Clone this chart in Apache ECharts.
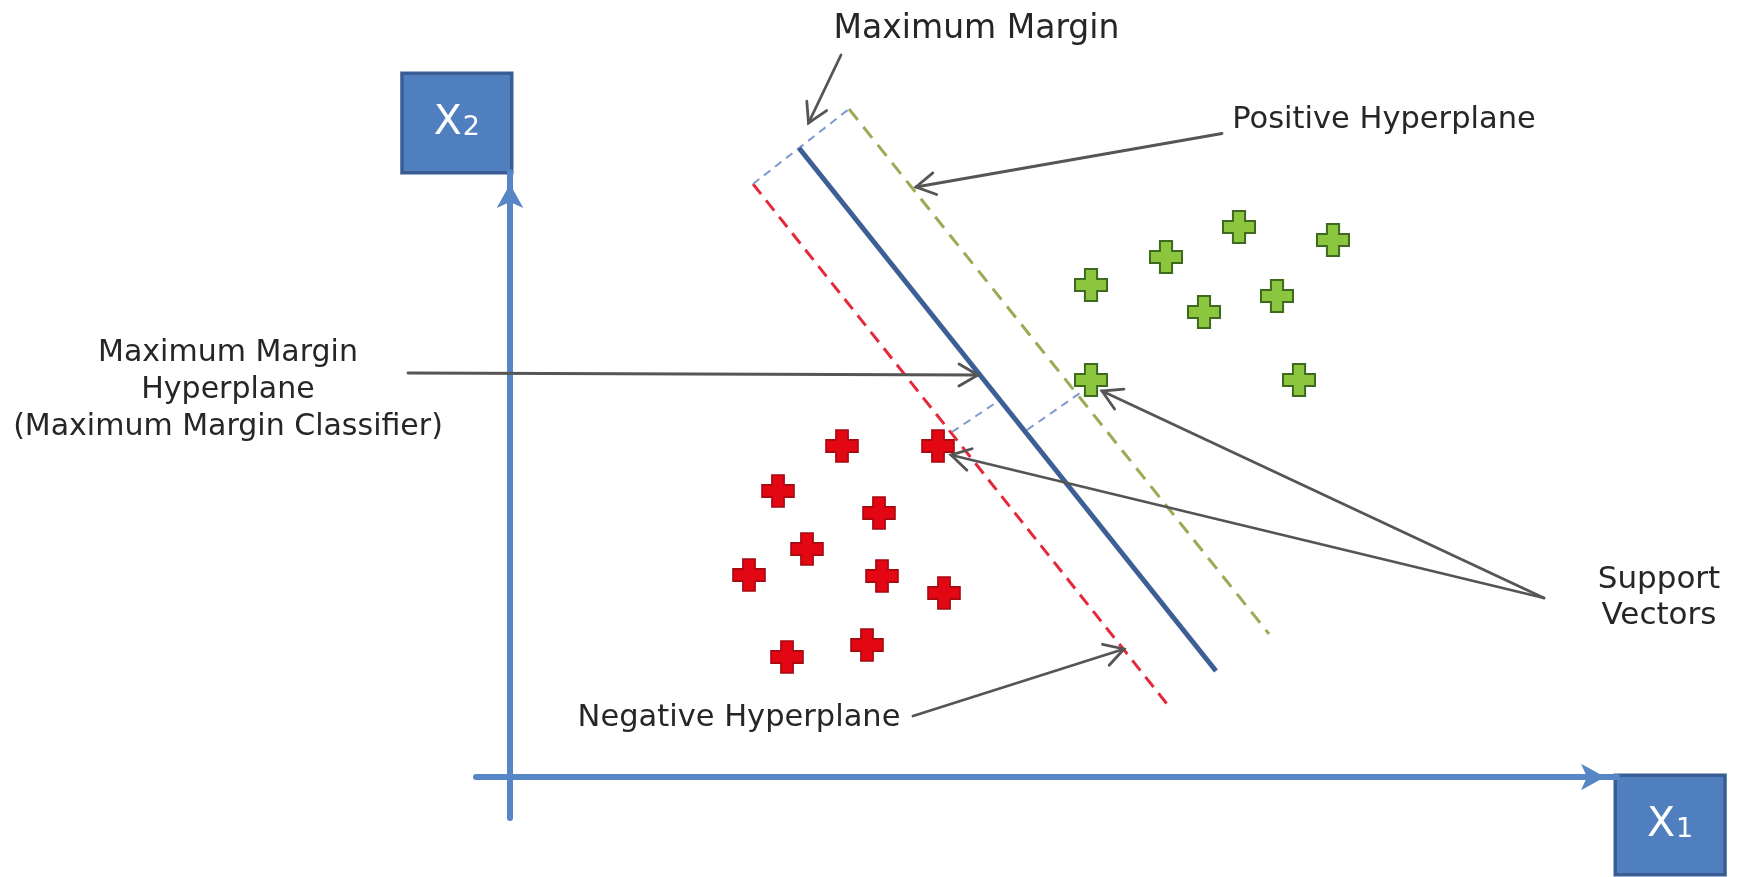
<!DOCTYPE html>
<html><head><meta charset="utf-8">
<script src="https://cdn.jsdelivr.net/npm/echarts@6/dist/echarts.min.js"></script>
<style>html,body{margin:0;padding:0;background:#fff}#c{width:1745px;height:877px}</style>
</head><body><div id="c"></div>
<script>
// ---- data (diagram units, origin at the axes crossing) ----
const redPoints = [[33.2,33.1],[42.8,33.1],[26.8,28.6],[36.9,26.4],[29.7,22.8],[23.9,20.2],[37.2,20.1],[43.4,18.4],[27.7,12.0],[35.7,13.2]];
const greenPoints = [[58.1,49.2],[65.6,52.0],[72.9,55.0],[82.3,53.7],[69.4,46.5],[76.7,48.1],[58.1,39.7],[78.9,39.7]];
const maxMarginHyperplane = [[28.9,62.9],[70.6,10.6]];
const negativeHyperplane = [[24.3,59.3],[66.1,6.8]];
const positiveHyperplane = [[33.9,66.8],[75.9,14.3]];
const marginLinks = [
  [[24.3,59.3],[33.9,66.8]],
  [[44.2,34.5],[49.0,37.7]],
  [[51.7,34.7],[57.0,38.4]]
];
const arrows = [
  [33.1,72.2,29.85,65.4],
  [71.2,64.35,40.6,59.0],
  [-10.2,40.4,46.8,40.2],
  [103.4,17.9,59.2,38.6],
  [103.4,17.9,44.1,32.2],
  [40.3,6.1,61.4,12.8]
];
const labelTexts = ['Maximum Margin','Positive Hyperplane','Maximum Margin\nHyperplane\n(Maximum Margin Classifier)','Support\nVectors','Negative Hyperplane'];
const labelPositions = [[46.65,74.8],[87.4,65.7],[-28.2,38.7],[114.9,17.9],[22.9,5.9]];
const xAxisName = ['X','1'];
const yAxisName = ['X','2'];
const xRange = [-3.4, 110.7];
const yRange = [-4.1, 60.5];

// ---- styles ----
const labelFont = [33, 30.5, 30, 31, 30.5];
const labelLine = [36, 36, 37, 36, 36];
const FONT = 'DejaVu Sans';
const crossPath = 'path://M9.3,0 H20.7 V9.3 H30 V20.7 H20.7 V30 H9.3 V20.7 H0 V9.3 H9.3 Z';
const axisColor = '#5686c6';

function nameStyle(align, vAlign) {
  return {
    align: align, verticalAlign: vAlign,
    backgroundColor: '#4f7fbf', borderColor: '#3a5e93', borderWidth: 3.5,
    padding: [27, 30, 27, 30],
    rich: {
      x: {fontSize: 41, fontFamily: FONT, color: '#fff', lineHeight: 42, verticalAlign: 'bottom'},
      s: {fontSize: 27, fontFamily: FONT, color: '#fff', lineHeight: 42, verticalAlign: 'bottom', padding: [0,0,3,1]}
    }
  };
}

function lineSeries(data, color, width, dash, z) {
  return {
    type: 'line', data: data, symbol: 'none', clip: false, silent: true, z: z,
    lineStyle: {color: color, width: width, type: dash, cap: 'butt'}
  };
}

const chart = echarts.init(document.getElementById('c'), null, {renderer: 'canvas'});
const option = {
  animation: false,
  backgroundColor: '#fff',
  grid: {left: 476, right: 128, top: 172, bottom: 59, containLabel: false, outerBoundsMode: 'none'},
  xAxis: {
    type: 'value', min: xRange[0], max: xRange[1],
    axisLine: {show: true, onZero: true, symbol: ['none','arrow'], symbolSize: [20, 24], symbolOffset: [0, -12],
      lineStyle: {color: axisColor, width: 6}},
    axisTick: {show: false}, axisLabel: {show: false}, splitLine: {show: false},
    name: '{x|' + xAxisName[0] + '}{s|' + xAxisName[1] + '}', nameLocation: 'end', nameGap: 0,
    nameTextStyle: nameStyle('left', 'top')
  },
  yAxis: {
    type: 'value', min: yRange[0], max: yRange[1],
    axisLine: {show: true, onZero: true, symbol: ['none','arrow'], symbolSize: [20, 24], symbolOffset: [0, -12],
      lineStyle: {color: axisColor, width: 6}},
    axisTick: {show: false}, axisLabel: {show: false}, splitLine: {show: false},
    name: '{x|' + yAxisName[0] + '}{s|' + yAxisName[1] + '}', nameLocation: 'end', nameGap: 1,
    nameTextStyle: nameStyle('right', 'bottom')
  },
  series: [
    lineSeries(negativeHyperplane, '#e5283a', 3, [13, 8], 2),
    lineSeries(positiveHyperplane, '#9aab55', 3, [14, 9], 2),
    lineSeries(maxMarginHyperplane, '#3e5f95', 5, 'solid', 3),
    ...marginLinks.map(l => lineSeries(l, '#7d99cf', 2, [8, 6], 2)),
    {
      type: 'scatter', data: redPoints, symbol: crossPath, symbolSize: 32, z: 6, silent: true,
      itemStyle: {color: '#e30613', borderColor: '#a50a12', borderWidth: 1.6, opacity: 1}
    },
    {
      type: 'scatter', data: greenPoints, symbol: crossPath, symbolSize: 32, z: 6, silent: true,
      itemStyle: {color: '#8cc63f', borderColor: '#3d6a1e', borderWidth: 2, opacity: 1}
    },
    {
      type: 'custom', coordinateSystem: 'cartesian2d', silent: true, z: 7,
      data: arrows,
      renderItem: function (params, api) {
        const p1 = api.coord([api.value(0), api.value(1)]);
        const p2 = api.coord([api.value(2), api.value(3)]);
        const dx = p2[0] - p1[0], dy = p2[1] - p1[1];
        const len = Math.sqrt(dx*dx + dy*dy);
        const ux = dx/len, uy = dy/len;
        const L = 22, a = 30 * Math.PI / 180;
        const c = Math.cos(a), s = Math.sin(a);
        const l1 = [p2[0] - L*(ux*c - uy*s), p2[1] - L*(ux*s + uy*c)];
        const l2 = [p2[0] - L*(ux*c + uy*s), p2[1] - L*(-ux*s + uy*c)];
        const st = {stroke: '#555555', lineWidth: 2.8, fill: null, lineCap: 'round', lineJoin: 'miter'};
        return {
          type: 'group',
          children: [
            {type: 'line', shape: {x1: p1[0], y1: p1[1], x2: p2[0], y2: p2[1]}, style: st},
            {type: 'polyline', shape: {points: [l1, p2, l2]}, style: st}
          ]
        };
      }
    },
    {
      type: 'custom', coordinateSystem: 'cartesian2d', silent: true, z: 8,
      data: labelPositions.map((p, i) => [p[0], p[1], i]),
      renderItem: function (params, api) {
        const pt = api.coord([api.value(0), api.value(1)]);
        const i = api.value(2);
        return {
          type: 'text', x: pt[0], y: pt[1],
          style: {text: labelTexts[i], fill: '#262626', fontSize: labelFont[i], fontFamily: FONT,
            align: 'center', verticalAlign: 'middle', lineHeight: labelLine[i]}
        };
      }
    }
  ]
};
chart.setOption(option);
</script>
</body></html>
